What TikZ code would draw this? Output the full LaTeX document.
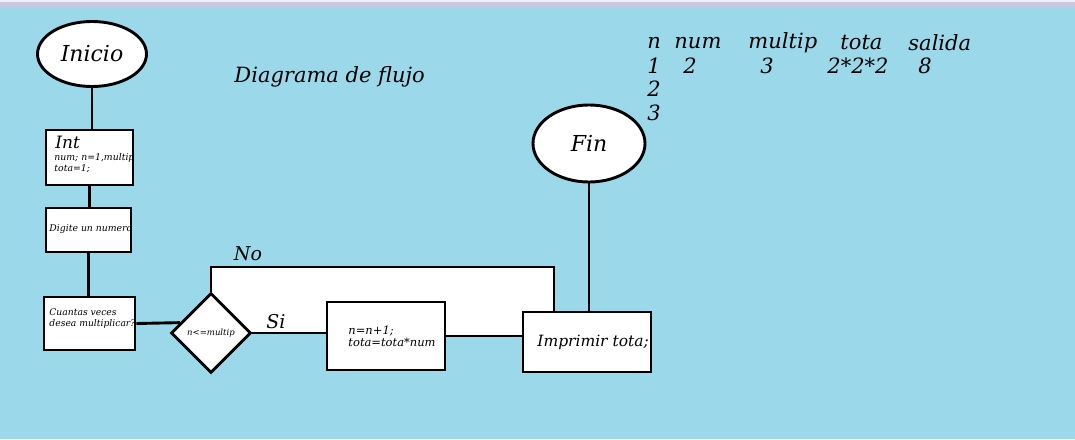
\documentclass[tikz,border=0pt]{standalone}
\usepackage{fontspec}
\setmainfont{DejaVu Serif}
\usetikzlibrary{shapes.geometric,calc}
\definecolor{fondo}{RGB}{155,216,233}
\definecolor{franja}{RGB}{200,200,224}
\definecolor{franjaclara}{RGB}{240,238,248}
\newcommand{\fsz}[1]{\fontsize{#1}{#1}\selectfont\itshape}

\begin{document}
\begin{tikzpicture}[x=1pt,y=-1pt,line width=2.9pt,
    caja/.style={draw,fill=white,rectangle,inner sep=0pt},
    inicfin/.style={draw,fill=white,ellipse,inner sep=0pt},
    decision/.style={draw,fill=white,diamond,inner sep=0pt,minimum width=80,minimum height=80},
    txt/.style={inner sep=0pt,align=left}]
        % background
        \fill[fondo] (0,0) rectangle (1075,439);
        \fill[franja] (0,0) rectangle (1075,7);
        \fill[franjaclara] (0,0) rectangle (1075,2);
        
        % white area of the loop
        \fill[white] (211,267) -- (554,267) -- (554,313) -- (523,313) -- (523,336) -- (445,336) -- (445,302) -- (327,302) -- (327,332) -- (251,332) -- (211,293) -- cycle;
        
        % shapes
        \node[inicfin, minimum width=109, minimum height=65] (inicio) at (92,54) {\fsz{22}Inicio};
        \node[caja, minimum width=87, minimum height=55] (int) at (89.5,157.5) {};
        \node[caja, minimum width=85, minimum height=44] (digite) at (88.5,230) {};
        \node[caja, minimum width=91, minimum height=53] (cuantas) at (89.5,323.5) {};
        \node[decision] (dec) at (211,333) {\fsz{8.5}n<=multip};
        \node[caja, minimum width=118, minimum height=68] (inc) at (386,336) {};
        \node[caja, minimum width=128, minimum height=60] (print) at (587,342) {};
        \node[inicfin, minimum width=112, minimum height=77] (fin) at (589,143.5) {\fsz{22}Fin};
        
        % texts in boxes
        \node[txt, anchor=west] (inttit) at (54,142) {\fsz{17}Int};
        \node[txt, anchor=north west] (intvar) at (53,152) {\fsz{9.3}num; n=1,multip\\[-1pt]\fsz{9.3}tota=1;};
        \node[txt, anchor=west] (digtxt) at (48,229) {\fsz{9.3}Digite un numero};
        \node[txt, anchor=north west] (cuantastxt) at (48,307) {\fsz{9.2}Cuantas veces\\[-1pt]\fsz{9.2}desea multiplicar?};
        \node[txt, anchor=west] (inctxt) at (347,336) {\fsz{11.5}n=n+1;\\[0pt]\fsz{11.5}tota=tota*num};
        \node[txt, anchor=west] (printtxt) at (536,342) {\fsz{15.5}Imprimir tota;};
        
        % lines
        \draw (inicio.south) -- (int.north -| inicio.south);
        \draw (int.south) -- (digite.north -| int.south);
        \draw (digite.south) -- (cuantas.north -| digite.south);
        \draw (cuantas.east) -- ($(dec.west)!0.25!(dec.north)$);
        \draw (dec.east) -- (dec.east -| inc.west);
        \draw (inc.east) -- (inc.east -| print.west);
        \draw (fin.south) -- (fin.south |- print.north);
        \coordinate (giro) at (211,267);
        \coordinate (fincic) at (554,313);
        \draw (dec.north) -- (giro) -| (fincic);
        
        % labels
        \node[txt] (no) at (248,254) {\fsz{19}No};
        \node[txt] (si) at (276,322) {\fsz{19}Si};
        \node[txt, anchor=west] (titulo) at (233,77) {\fsz{21}Diagrama de flujo};
        
        % table
        \node[txt, anchor=west] (hn) at (646,43) {\fsz{21}n};
        \node[txt, anchor=west] (hnum) at (673,43) {\fsz{21}num};
        \node[txt, anchor=west] (hmul) at (747,43) {\fsz{21}multip};
        \node[txt, anchor=west] (htota) at (839,43) {\fsz{21}tota};
        \node[txt, anchor=west] (hsal) at (907,43) {\fsz{21}salida};
        \node[txt, anchor=west] (r1n) at (646,66) {\fsz{21}1};
        \node[txt, anchor=west] (r1num) at (682,66) {\fsz{21}2};
        \node[txt, anchor=west] (r1mul) at (759,66) {\fsz{21}3};
        \node[txt, anchor=west] (r1tota) at (826,66) {\fsz{21}2*2*2};
        \node[txt, anchor=west] (r1sal) at (917,66) {\fsz{21}8};
        \node[txt, anchor=west] (r2n) at (646,89) {\fsz{21}2};
        \node[txt, anchor=west] (r3n) at (646,113) {\fsz{21}3};
        
    \end{tikzpicture}
\end{document}
